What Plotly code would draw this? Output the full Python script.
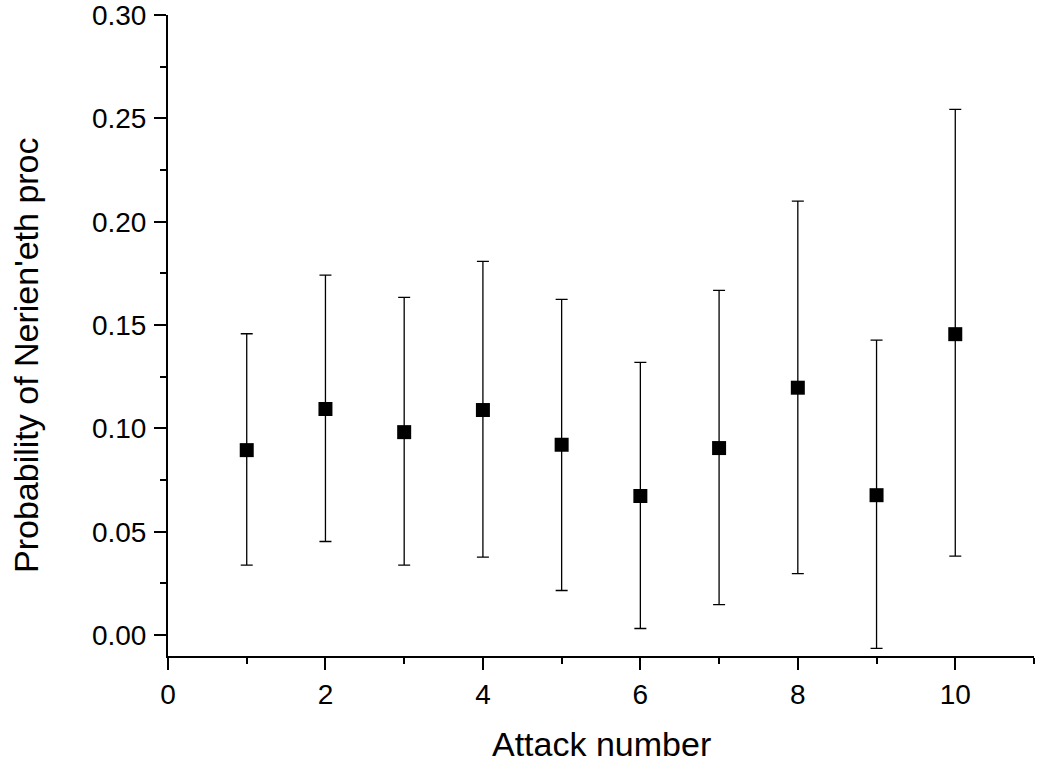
import plotly.graph_objects as go

attack = [1, 2, 3, 4, 5, 6, 7, 8, 9, 10]
prob = [0.0895, 0.1094, 0.0982, 0.1089, 0.0921, 0.0673, 0.0905, 0.1197, 0.0677, 0.1456]
upper = [0.1458, 0.1742, 0.1634, 0.1808, 0.1624, 0.1320, 0.1668, 0.2100, 0.1427, 0.2544]
lower = [0.0339, 0.0453, 0.0339, 0.0377, 0.0216, 0.0032, 0.0148, 0.0298, -0.0064, 0.0382]
y_ticks = [0.00, 0.05, 0.10, 0.15, 0.20, 0.25, 0.30]
y_tick_labels = ["0.00", "0.05", "0.10", "0.15", "0.20", "0.25", "0.30"]

err_plus = [u - p for u, p in zip(upper, prob)]
err_minus = [p - l for p, l in zip(prob, lower)]

FONT = "Arial, Liberation Sans, sans-serif"

fig = go.Figure()
fig.add_trace(go.Scatter(
    x=attack, y=prob, mode="markers",
    marker=dict(symbol="square", size=14, color="black"),
    error_y=dict(type="data", symmetric=False, array=err_plus, arrayminus=err_minus,
                 color="black", thickness=1.3, width=6),
    showlegend=False,
))

fig.update_layout(
    width=1047, height=777,
    margin=dict(l=168, r=13, t=15, b=121, autoexpand=False),
    paper_bgcolor="white", plot_bgcolor="white",
    font=dict(family=FONT, color="black", size=28),
    xaxis=dict(range=[0, 11], tickmode="linear", tick0=0, dtick=2, automargin=False,
               showgrid=False, zeroline=False, showline=True, linecolor="black", linewidth=2,
               ticks="outside", ticklen=12, tickwidth=2, tickcolor="black",
               tickfont=dict(size=28, family=FONT), ticklabelstandoff=0,
               ticklabeloverflow="allow",
               minor=dict(dtick=1, tick0=0, ticks="outside", ticklen=6, tickwidth=2, tickcolor="black", showgrid=False)),
    yaxis=dict(range=[-0.0101, 0.30001], tickmode="array", tickvals=y_ticks, ticktext=y_tick_labels,
               automargin=False, ticklabeloverflow="allow",
               showgrid=False, zeroline=False, showline=True, linecolor="black", linewidth=2,
               ticks="outside", ticklen=12, tickwidth=2, tickcolor="black",
               tickfont=dict(size=28, family=FONT), ticklabelstandoff=2,
               minor=dict(dtick=0.025, tick0=0, ticks="outside", ticklen=6, tickwidth=2, tickcolor="black", showgrid=False)),
    annotations=[
        dict(text="Attack number", xref="paper", yref="paper", x=0.5, y=-0.137,
             xanchor="center", yanchor="middle", showarrow=False,
             font=dict(size=34, family=FONT, color="black")),
        dict(text="Probability of Nerien'eth proc", xref="paper", yref="paper",
             x=-0.164, y=0.4696, xanchor="center", yanchor="middle", textangle=-90,
             showarrow=False, font=dict(size=34, family=FONT, color="black")),
    ],
)

fig.write_html("out.html", config={"displayModeBar": False},
               post_script="document.body.style.margin='0';")
